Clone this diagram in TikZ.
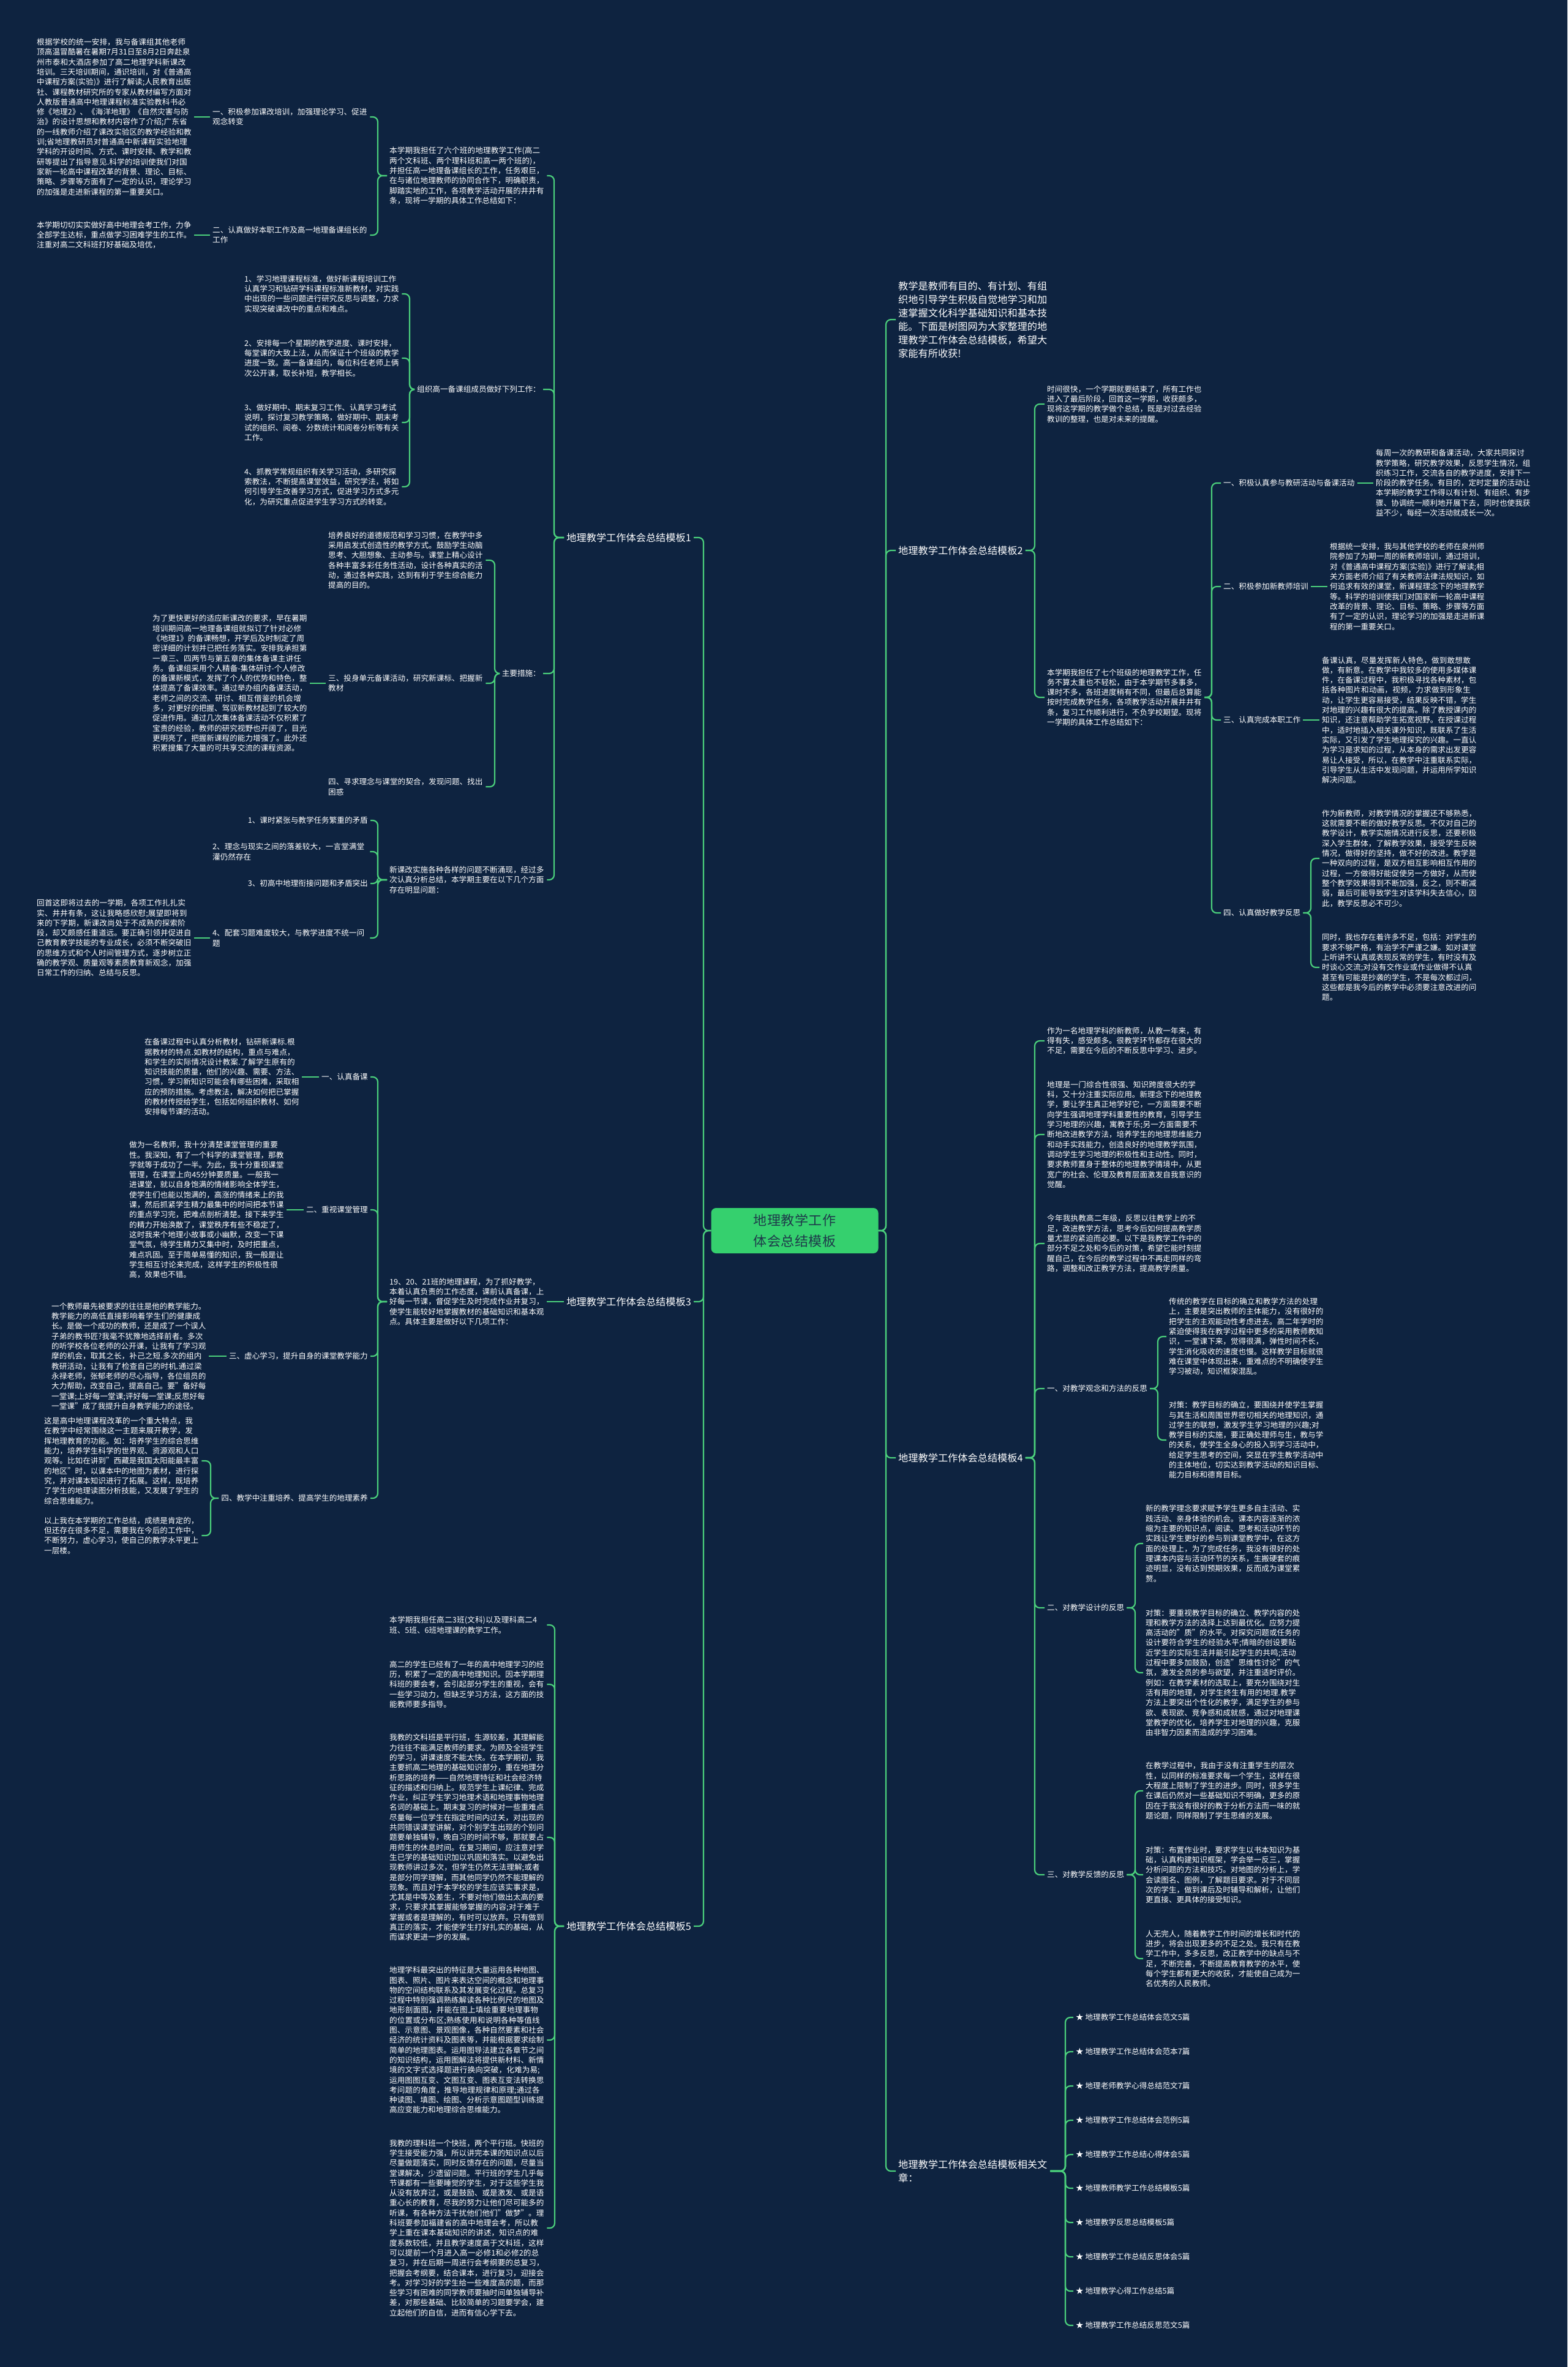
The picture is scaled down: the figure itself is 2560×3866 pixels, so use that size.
\documentclass[tikz,border=0pt]{standalone}
\usepackage{fontspec}
\setmainfont{Noto Sans CJK SC}
\XeTeXlinebreaklocale "zh"
\XeTeXlinebreakskip=0pt plus 0.5pt
\definecolor{bgc}{HTML}{0E2340}
\definecolor{lnc}{HTML}{4BD07C}
\definecolor{ctr}{HTML}{35D06E}
\definecolor{ctrtxt}{HTML}{1E3A4A}
\tikzset{
  txt/.style={text=white, font=\fontsize{12.6}{16.3}\selectfont, inner xsep=4pt, inner ysep=1pt, align=left},
  para/.style={txt, text width=253pt},
  lab/.style={txt},
  bigt/.style={text=white, font=\fontsize{16.2}{22}\selectfont, inner xsep=4pt, inner ysep=1pt, align=left},
  ctrbox/.style={fill=ctr, text=ctrtxt, rounded corners=8pt, minimum width=273pt, minimum height=74pt, text width=244pt, align=center, font=\fontsize{22}{34}\selectfont, inner sep=0pt},
  link/.style={draw=lnc, line width=2.2pt, rounded corners=8pt},
  R/.style={anchor=west, xshift=-4pt},
  L/.style={anchor=east, xshift=4pt},
}
\newcommand\rconn[3]{\draw[link] (#1.east) -- (#1.east -| #3,0) |- (#2.west);}
\newcommand\lconn[3]{\draw[link] (#1.west) -- (#1.west -| #3,0) |- (#2.east);}
\begin{document}
\begin{tikzpicture}[x=1pt,y=-1pt]
\fill[bgc] (0,0) rectangle (2560,3866);
\useasboundingbox (0,0) rectangle (2560,3866);

% centre
\node[ctrbox] (C) at (1298,2010) {地理教学工作体会总结模板};

% ================= RIGHT =================
\node[bigt, R, text width=244pt] (R0) at (1467,522) {教学是教师有目的、有计划、有组织地引导学生积极自觉地学习和加速掌握文化科学基础知识和基本技能。下面是树图网为大家整理的地理教学工作体会总结模板，希望大家能有所收获!};

\node[bigt, R] (T2) at (1467,899) {地理教学工作体会总结模板2};
\node[para, R] (T2a) at (1710,660) {时间很快，一个学期就要结束了，所有工作也进入了最后阶段，回首这一学期，收获颇多，现将这学期的教学做个总结，既是对过去经验教训的整理，也是对未来的提醒。};
\node[para, R] (T2b) at (1710,1139) {本学期我担任了七个班级的地理教学工作，任务不算太重也不轻松，由于本学期节多事多，课时不多，各班进度稍有不同，但最后总算能按时完成教学任务，各项教学活动开展井井有条，复习工作顺利进行，不负学校期望。现将一学期的具体工作总结如下：};
\node[lab, R] (T2b1) at (1998,789) {一、积极认真参与教研活动与备课活动};
\node[para, R] (T2b1c) at (2247,789) {每周一次的教研和备课活动，大家共同探讨教学策略，研究教学效果，反思学生情况，组织练习工作，交流各自的教学进度，安排下一阶段的教学任务。有目的，定时定量的活动让本学期的教学工作得以有计划、有组织、有步骤、协调统一顺利地开展下去，同时也使我获益不少，每经一次活动就成长一次。};
\node[lab, R] (T2b2) at (1998,958) {二、积极参加新教师培训};
\node[para, R] (T2b2c) at (2172,958) {根据统一安排，我与其他学校的老师在泉州师院参加了为期一周的新教师培训，通过培训，对《普通高中课程方案(实验)》进行了解读;相关方面老师介绍了有关教师法律法规知识，如何追求有效的课堂，新课程理念下的地理教学等。科学的培训使我们对国家新一轮高中课程改革的背景、理论、目标、策略、步骤等方面有了一定的认识，理论学习的加强是走进新课程的第一重要关口。};
\node[lab, R] (T2b3) at (1998,1176) {三、认真完成本职工作};
\node[para, R] (T2b3c) at (2159,1176) {备课认真，尽量发挥新人特色，做到敢想敢做，有新意。在教学中我较多的使用多媒体课件，在备课过程中，我积极寻找各种素材，包括各种图片和动画，视频，力求做到形象生动，让学生更容易接受，结果反映不错，学生对地理的兴趣有很大的提高。除了教授课内的知识，还注意帮助学生拓宽视野。在授课过程中，适时地插入相关课外知识，既联系了生活实际，又引发了学生地理探究的兴趣。一直认为学习是求知的过程，从本身的需求出发更容易让人接受，所以，在教学中注重联系实际，引导学生从生活中发现问题，并运用所学知识解决问题。};
\node[lab, R] (T2b4) at (1998,1491) {四、认真做好教学反思};
\node[para, R] (T2b4a) at (2159,1402) {作为新教师，对教学情况的掌握还不够熟悉，这就需要不断的做好教学反思。不仅对自己的教学设计，教学实施情况进行反思，还要积极深入学生群体，了解教学效果，接受学生反映情况，做得好的坚持，做不好的改进。教学是一种双向的过程，是双方相互影响相互作用的过程，一方做得好能促使另一方做好，从而使整个教学效果得到不断加强，反之，则不断减弱，最后可能导致学生对该学科失去信心，因此，教学反思必不可少。};
\node[para, R] (T2b4b) at (2159,1580) {同时，我也存在着许多不足，包括：对学生的要求不够严格，有治学不严谨之嫌。如对课堂上听讲不认真或表现反常的学生，有时没有及时谈心交流;对没有交作业或作业做得不认真甚至有可能是抄袭的学生，不是每次都过问，这些都是我今后的教学中必须要注意改进的问题。};

\node[bigt, R] (T4) at (1467,2381) {地理教学工作体会总结模板4};
\node[para, R] (T4a) at (1710,1700) {作为一名地理学科的新教师，从教一年来，有得有失，感受颇多。很教学环节都存在很大的不足，需要在今后的不断反思中学习、进步。};
\node[para, R] (T4b) at (1710,1853) {地理是一门综合性很强、知识跨度很大的学科，又十分注重实际应用。新理念下的地理教学，要让学生真正地学好它，一方面需要不断向学生强调地理学科重要性的教育，引导学生学习地理的兴趣，寓教于乐;另一方面需要不断地改进教学方法，培养学生的地理思维能力和动手实践能力，创造良好的地理教学氛围，调动学生学习地理的积极性和主动性。同时，要求教师置身于整体的地理教学情境中，从更宽广的社会、伦理及教育层面激发自我意识的觉醒。};
\node[para, R] (T4c) at (1710,2031) {今年我执教高二年级，反思以往教学上的不足，改进教学方法，思考今后如何提高教学质量尤显的紧迫而必要。以下是我教学工作中的部分不足之处和今后的对策，希望它能时刻提醒自己，在今后的教学过程中不再走同样的弯路，调整和改正教学方法，提高教学质量。};
\node[lab, R] (T4d) at (1710,2268) {一、对教学观念和方法的反思};
\node[para, R] (T4d1) at (1909,2183) {传统的教学在目标的确立和教学方法的处理上，主要是突出教师的主体能力，没有很好的把学生的主观能动性考虑进去。高二年学时的紧迫使得我在教学过程中更多的采用教师教知识，一堂课下来，觉得很满，弹性时间不长，学生消化吸收的速度也慢。这样教学目标就很难在课堂中体现出来，重难点的不明确使学生学习被动，知识框架混乱。};
\node[para, R] (T4d2) at (1909,2352) {对策：教学目标的确立，要围绕并使学生掌握与其生活和周围世界密切相关的地理知识，通过学生的联想，激发学生学习地理的兴趣;对教学目标的实施，要正确处理师与生，教与学的关系，使学生全身心的投入到学习活动中，给足学生思考的空间，突显在学生教学活动中的主体地位，切实达到教学活动的知识目标、能力目标和德育目标。};
\node[lab, R] (T4e) at (1710,2626) {二、对教学设计的反思};
\node[para, R] (T4e1) at (1871,2521) {新的教学理念要求赋予学生更多自主活动、实践活动、亲身体验的机会。课本内容逐渐的浓缩为主要的知识点，阅读、思考和活动环节的实践让学生更好的参与到课堂教学中，在这方面的处理上，为了完成任务，我没有很好的处理课本内容与活动环节的关系，生搬硬套的痕迹明显，没有达到预期效果，反而成为课堂累赘。};
\node[para, R] (T4e2) at (1871,2732) {对策：要重视教学目标的确立、教学内容的处理和教学方法的选择上达到最优化。应努力提高活动的"质"的水平。对探究问题或任务的设计要符合学生的经验水平;情暗的创设要贴近学生的实际生活并能引起学生的共鸣;活动过程中要多加鼓励，创造"思维性讨论"的气氛，激发全员的参与欲望，并注重适时评价。例如：在教学素材的选取上，要充分围绕对生活有用的地理，对学生终生有用的地理.教学方法上要突出个性化的教学，满足学生的参与欲、表现欲、竞争感和成就感，通过对地理课堂教学的优化，培养学生对地理的兴趣，克服由非智力因素而造成的学习困难。};
\node[lab, R] (T4f) at (1710,3062) {三、对教学反馈的反思};
\node[para, R] (T4f1) at (1871,2925) {在教学过程中，我由于没有注重学生的层次性，以同样的标准要求每一个学生，这样在很大程度上限制了学生的进步。同时，很多学生在课后仍然对一些基础知识不明确，更多的原因在于我没有很好的教于分析方法而一味的就题论题，同样限制了学生思维的发展。};
\node[para, R] (T4f2) at (1871,3062) {对策：布置作业时，要求学生以书本知识为基础，认真构建知识框架，学会举一反三，掌握分析问题的方法和技巧。对地图的分析上，学会读图名、图例，了解题目要求。对于不同层次的学生，做到课后及时辅导和解析，让他们更直接、更具体的接受知识。};
\node[para, R] (T4f3) at (1871,3199) {人无完人，随着教学工作时间的增长和时代的进步，将会出现更多的不足之处。我只有在教学工作中，多多反思，改正教学中的缺点与不足，不断完善，不断提高教育教学的水平，使每个学生都有更大的收获，才能使自己成为一名优秀的人民教师。};

\node[bigt, R, text width=244pt] (T6) at (1467,3546) {地理教学工作体会总结模板相关文章：};
\node[lab, R] (I1) at (1757,3295) {★ 地理教学工作总结体会范文5篇};
\node[lab, R] (I2) at (1757,3351) {★ 地理教学工作总结体会范本7篇};
\node[lab, R] (I3) at (1757,3407) {★ 地理老师教学心得总结范文7篇};
\node[lab, R] (I4) at (1757,3463) {★ 地理教学工作总结体会范例5篇};
\node[lab, R] (I5) at (1757,3519) {★ 地理教学工作总结心得体会5篇};
\node[lab, R] (I6) at (1757,3574) {★ 地理教师教学工作总结模板5篇};
\node[lab, R] (I7) at (1757,3630) {★ 地理教学反思总结模板5篇};
\node[lab, R] (I8) at (1757,3686) {★ 地理教学工作总结反思体会5篇};
\node[lab, R] (I9) at (1757,3742) {★ 地理教学心得工作总结5篇};
\node[lab, R] (I10) at (1757,3798) {★ 地理教学工作总结反思范文5篇};

% right connectors
\rconn{C}{R0}{1447}
\rconn{C}{T2}{1447}
\rconn{C}{T4}{1447}
\rconn{C}{T6}{1447}
\rconn{T2}{T2a}{1690}
\rconn{T2}{T2b}{1690}
\rconn{T2b}{T2b1}{1979}
\rconn{T2b}{T2b2}{1979}
\rconn{T2b}{T2b3}{1979}
\rconn{T2b}{T2b4}{1979}
\draw[link] (T2b1.east) -- (T2b1c.west);
\draw[link] (T2b2.east) -- (T2b2c.west);
\draw[link] (T2b3.east) -- (T2b3c.west);
\rconn{T2b4}{T2b4a}{2141}
\rconn{T2b4}{T2b4b}{2141}
\rconn{T4}{T4a}{1690}
\rconn{T4}{T4b}{1690}
\rconn{T4}{T4c}{1690}
\rconn{T4}{T4d}{1690}
\rconn{T4}{T4e}{1690}
\rconn{T4}{T4f}{1690}
\rconn{T4d}{T4d1}{1891}
\rconn{T4d}{T4d2}{1891}
\rconn{T4e}{T4e1}{1854}
\rconn{T4e}{T4e2}{1854}
\rconn{T4f}{T4f1}{1854}
\rconn{T4f}{T4f2}{1854}
\rconn{T4f}{T4f3}{1854}
\foreach \i in {1,...,10} {\rconn{T6}{I\i}{1740}}

% ================= LEFT =================
\node[bigt, L] (T1) at (1129,878) {地理教学工作体会总结模板1};
\node[para, R] (T1a) at (636,287) {本学期我担任了六个班的地理教学工作(高二两个文科班、两个理科班和高一两个班的)，并担任高一地理备课组长的工作，任务艰巨，在与诸位地理教师的协同合作下，明确职责，脚踏实地的工作，各项教学活动开展的井井有条，现将一学期的具体工作总结如下：};
\node[para, R] (T1a1) at (347,191) {一、积极参加课改培训，加强理论学习、促进观念转变};
\node[para, R] (T1a1c) at (60,191) {根据学校的统一安排，我与备课组其他老师顶高温冒酷暑在暑期7月31日至8月2日奔赴泉州市泰和大酒店参加了高二地理学科新课改培训。三天培训期间，通识培训，对《普通高中课程方案(实验)》进行了解读;人民教育出版社、课程教材研究所的专家从教材编写方面对人教版普通高中地理课程标准实验教科书必修《地理2》、《海洋地理》《自然灾害与防治》的设计思想和教材内容作了介绍;广东省的一线教师介绍了课改实验区的教学经验和教训;省地理教研员对普通高中新课程实验地理学科的开设时间、方式、课时安排、教学和教研等提出了指导意见.科学的培训使我们对国家新一轮高中课程改革的背景、理论、目标、策略、步骤等方面有了一定的认识，理论学习的加强是走进新课程的第一重要关口。};
\node[para, R] (T1a2) at (347,384) {二、认真做好本职工作及高一地理备课组长的工作};
\node[para, R] (T1a2c) at (60,384) {本学期切切实实做好高中地理会考工作，力争全部学生达标，重点做学习困难学生的工作。注重对高二文科班打好基础及培优，};
\node[lab, L] (T1b) at (883,636) {组织高一备课组成员做好下列工作：};
\node[para, R] (T1b1) at (399,480) {1、学习地理课程标准，做好新课程培训工作认真学习和钻研学科课程标准新教材，对实践中出现的一些问题进行研究反思与调整，力求实现突破课改中的重点和难点。};
\node[para, R] (T1b2) at (399,585) {2、安排每一个星期的教学进度、课时安排，每堂课的大致上法，从而保证十个班级的教学进度一致。高一备课组内，每位科任老师上俩次公开课，取长补短，教学相长。};
\node[para, R] (T1b3) at (399,690) {3、做好期中、期末复习工作、认真学习考试说明，探讨复习教学策略，做好期中、期末考试的组织、阅卷、分数统计和阅卷分析等有关工作。};
\node[para, R] (T1b4) at (399,795) {4、抓教学常规组织有关学习活动，多研究探索教法，不断提高课堂效益，研究学法，将如何引导学生改善学习方式，促进学习方式多元化，为研究重点促进学生学习方式的转变。};
\node[lab, L] (T1c) at (883,1100) {主要措施：};
\node[para, R] (T1c1) at (536,915) {培养良好的道德规范和学习习惯，在教学中多采用启发式创造性的教学方式。鼓励学生动脑思考、大胆想象、主动参与。课堂上精心设计各种丰富多彩任务性活动，设计各种真实的活动，通过各种实践，达到有利于学生综合能力提高的目的。};
\node[para, R] (T1c2) at (536,1116) {三、投身单元备课活动，研究新课标、把握新教材};
\node[para, R] (T1c2c) at (249,1116) {为了更快更好的适应新课改的要求，早在暑期培训期间高一地理备课组就拟订了针对必修《地理1》的备课畅想，开学后及时制定了周密详细的计划并已把任务落实。安排我承担第一章三、四两节与第五章的集体备课主讲任务。备课组采用个人精备-集体研讨-个人修改的备课新模式，发挥了个人的优势和特色，整体提高了备课效率。通过举办组内备课活动，老师之间的交流、研讨、相互借鉴的机会增多，对更好的把握、驾驭新教材起到了较大的促进作用。通过几次集体备课活动不仅积累了宝贵的经验，教师的研究视野也开阔了，目光更明亮了，把握新课程的能力增强了。此外还积累搜集了大量的可共享交流的课程资源。};
\node[para, R] (T1c3) at (536,1285) {四、寻求理念与课堂的契合，发现问题、找出困惑};
\node[para, R] (T1d) at (636,1437) {新课改实施各种各样的问题不断涌现，经过多次认真分析总结，本学期主要在以下几个方面存在明显问题：};
\node[lab, L] (T1d1) at (601,1340) {1、课时紧张与教学任务繁重的矛盾};
\node[para, R] (T1d2) at (347,1391) {2、理念与现实之间的落差较大，一言堂满堂灌仍然存在};
\node[lab, L] (T1d3) at (601,1443) {3、初高中地理衔接问题和矛盾突出};
\node[para, R] (T1d4) at (347,1532) {4、配套习题难度较大，与教学进度不统一问题};
\node[para, R] (T1d4c) at (60,1532) {回首这即将过去的一学期，各项工作扎扎实实、井井有条，这让我略感欣慰;展望即将到来的下学期，新课改尚处于不成熟的探索阶段，却又颇感任重道远。要正确引领并促进自己教育教学技能的专业成长，必须不断突破旧的思维方式和个人时间管理方式，逐步树立正确的教学观、质量观等素质教育新观念，加强日常工作的归纳、总结与反思。};

\node[bigt, L] (T3) at (1129,2126) {地理教学工作体会总结模板3};
\node[para, R] (T3a) at (636,2126) {19、20、21班的地理课程，为了抓好教学，本着认真负责的工作态度，课前认真备课，上好每一节课，督促学生及时完成作业并复习，使学生能较好地掌握教材的基础知识和基本观点。具体主要是做好以下几项工作：};
\node[lab, L] (T3a1) at (601,1759) {一、认真备课};
\node[para, R] (T3a1c) at (236,1759) {在备课过程中认真分析教材，钻研新课标.根据教材的特点.如教材的结构，重点与难点，和学生的实际情况设计教案.了解学生原有的知识技能的质量，他们的兴趣、需要、方法、习惯，学习新知识可能会有哪些困难，采取相应的预防措施。考虑教法，解决如何把已掌握的教材传授给学生，包括如何组织教材、如何安排每节课的活动。};
\node[lab, L] (T3a2) at (601,1976) {二、重视课堂管理};
\node[para, R] (T3a2c) at (211,1976) {做为一名教师，我十分清楚课堂管理的重要性。我深知，有了一个科学的课堂管理，那教学就等于成功了一半。为此，我十分重视课堂管理，在课堂上向45分钟要质量。一般我一进课堂，就以自身饱满的情绪影响全体学生，使学生们也能以饱满的，高涨的情绪来上的我课，然后抓紧学生精力最集中的时间把本节课的重点学习完，把难点剖析清楚。接下来学生的精力开始涣散了，课堂秩序有些不稳定了，这时我来个地理小故事或小幽默，改变一下课堂气氛，待学生精力又集中时，及时把重点，难点巩固。至于简单易懂的知识，我一般是让学生相互讨论来完成，这样学生的积极性很高，效果也不错。};
\node[lab, L] (T3a3) at (601,2215) {三、虚心学习，提升自身的课堂教学能力};
\node[para, R] (T3a3c) at (84,2215) {一个教师最先被要求的往往是他的教学能力。教学能力的高低直接影响着学生们的健康成长。是做一个成功的教师，还是成了一个误人子弟的教书匠?我毫不犹豫地选择前者。多次的听学校各位老师的公开课，让我有了学习观摩的机会，取其之长，补己之短.多次的组内教研活动，让我有了检查自己的时机.通过梁永禄老师，张郁老师的尽心指导，各位组员的大力帮助，改变自己，提高自己。要"备好每一堂课;上好每一堂课;评好每一堂课;反思好每一堂课"成了我提升自身教学能力的途径。};
\node[lab, L] (T3a4) at (601,2447) {四、教学中注重培养、提高学生的地理素养};
\node[para, R] (T3a4a) at (72,2386) {这是高中地理课程改革的一个重大特点，我在教学中经常围绕这一主题来展开教学，发挥地理教育的功能。如：培养学生的综合思维能力，培养学生科学的世界观、资源观和人口观等。比如在讲到"西藏是我国太阳能最丰富的地区"时，以课本中的地图为素材，进行探究，并对课本知识进行了拓展。这样，既培养了学生的地理读图分析技能，又发展了学生的综合思维能力。};
\node[para, R] (T3a4b) at (72,2508) {以上我在本学期的工作总结，成绩是肯定的，但还存在很多不足，需要我在今后的工作中，不断努力，虚心学习，使自己的教学水平更上一层楼。};

\node[bigt, L] (T5) at (1129,3146) {地理教学工作体会总结模板5};
\node[para, R] (T5a) at (636,2654) {本学期我担任高二3班(文科)以及理科高二4班、5班、6班地理课的教学工作。};
\node[para, R] (T5b) at (636,2751) {高二的学生已经有了一年的高中地理学习的经历，积累了一定的高中地理知识。因本学期理科班的要会考，会引起部分学生的重视，会有一些学习动力，但缺乏学习方法，这方面的技能教师要多指导。};
\node[para, R] (T5c) at (636,3001) {我教的文科班是平行班，生源较差，其理解能力往往不能满足教师的要求。为顾及全班学生的学习，讲课速度不能太快。在本学期初，我主要抓高二地理的基础知识部分，重在地理分析思路的培养——自然地理特征和社会经济特征的描述和归纳上。规范学生上课纪律、完成作业，纠正学生学习地理术语和地理事物地理名词的基础上。期末复习的时候对一些重难点尽量每一位学生在指定时间内过关，对出现的共同错误课堂讲解，对个别学生出现的个别问题要单独辅导，晚自习的时间不够，那就要占用师生的休息时间。在复习期间，应注意对学生已学的基础知识加以巩固和落实。以避免出现教师讲过多次，但学生仍然无法理解;或者是部分同学理解，而其他同学仍然不能理解的现象。而且对于本学校的学生应该实事求是，尤其是中等及差生，不要对他们做出太高的要求，只要求其掌握能够掌握的内容;对于难于掌握或者是理解的，有时可以放弃。只有做到真正的落实，才能使学生打好扎实的基础，从而谋求更进一步的发展。};
\node[para, R] (T5d) at (636,3332) {地理学科最突出的特征是大量运用各种地图、图表、照片、图片来表达空间的概念和地理事物的空间结构联系及其发展变化过程。总复习过程中特别强调熟练解读各种比例尺的地图及地形剖面图，并能在图上填绘重要地理事物的位置或分布区;熟练使用和说明各种等值线图、示意图、景观图像，各种自然要素和社会经济的统计资料及图表等，并能根据要求绘制简单的地理图表。运用图导法建立各章节之间的知识结构，运用图解法将提供新材料、新情境的文字式选择题进行换向突破，化难为易;运用图图互变、文图互变、图表互变法转换思考问题的角度，推导地理规律和原理;通过各种读图、填图、绘图、分析示意图题型训练提高应变能力和地理综合思维能力。};
\node[para, R] (T5e) at (636,3639) {我教的理科班一个快班，两个平行班。快班的学生接受能力强，所以讲完本课的知识点以后尽量做题落实，同时反馈存在的问题，尽量当堂课解决，少遗留问题。平行班的学生几乎每节课都有一些要睡觉的学生，对于这些学生我从没有放弃过，或是鼓励、或是激发、或是语重心长的教育，尽我的努力让他们尽可能多的听课，有各种方法干扰他们他们"做梦"。理科班要参加福建省的高中地理会考，所以教学上重在课本基础知识的讲述，知识点的难度系数较低，并且教学速度高于文科班，这样可以提前一个月进入高一必修1和必修2的总复习，并在后期一周进行会考纲要的总复习，把握会考纲要，结合课本，进行复习，迎接会考。对学习好的学生给一些难度高的题，而那些学习有困难的同学教师要抽时间单独辅导补差，对那些基础、比较简单的习题要学会，建立起他们的自信，进而有信心学下去。};

% left connectors
\lconn{C}{T1}{1149}
\lconn{C}{T3}{1149}
\lconn{C}{T5}{1149}
\lconn{T1}{T1a}{905}
\lconn{T1}{T1b}{905}
\lconn{T1}{T1c}{905}
\lconn{T1}{T1d}{905}
\lconn{T1a}{T1a1}{617}
\lconn{T1a}{T1a2}{617}
\draw[link] (T1a1.west) -- (T1a1c.east);
\draw[link] (T1a2.west) -- (T1a2c.east);
\lconn{T1b}{T1b1}{669}
\lconn{T1b}{T1b2}{669}
\lconn{T1b}{T1b3}{669}
\lconn{T1b}{T1b4}{669}
\lconn{T1c}{T1c1}{808}
\lconn{T1c}{T1c2}{808}
\lconn{T1c}{T1c3}{808}
\draw[link] (T1c2.west) -- (T1c2c.east);
\lconn{T1d}{T1d1}{617}
\lconn{T1d}{T1d2}{617}
\lconn{T1d}{T1d3}{617}
\lconn{T1d}{T1d4}{617}
\draw[link] (T1d4.west) -- (T1d4c.east);
\draw[link] (T3.west) -- (T3a.east);
\lconn{T3a}{T3a1}{617}
\lconn{T3a}{T3a2}{617}
\lconn{T3a}{T3a3}{617}
\lconn{T3a}{T3a4}{617}
\draw[link] (T3a1.west) -- (T3a1c.east);
\draw[link] (T3a2.west) -- (T3a2c.east);
\draw[link] (T3a3.west) -- (T3a3c.east);
\lconn{T3a4}{T3a4a}{344}
\lconn{T3a4}{T3a4b}{344}
\lconn{T5}{T5a}{906}
\lconn{T5}{T5b}{906}
\lconn{T5}{T5c}{906}
\lconn{T5}{T5d}{906}
\lconn{T5}{T5e}{906}
\end{tikzpicture}
\end{document}
